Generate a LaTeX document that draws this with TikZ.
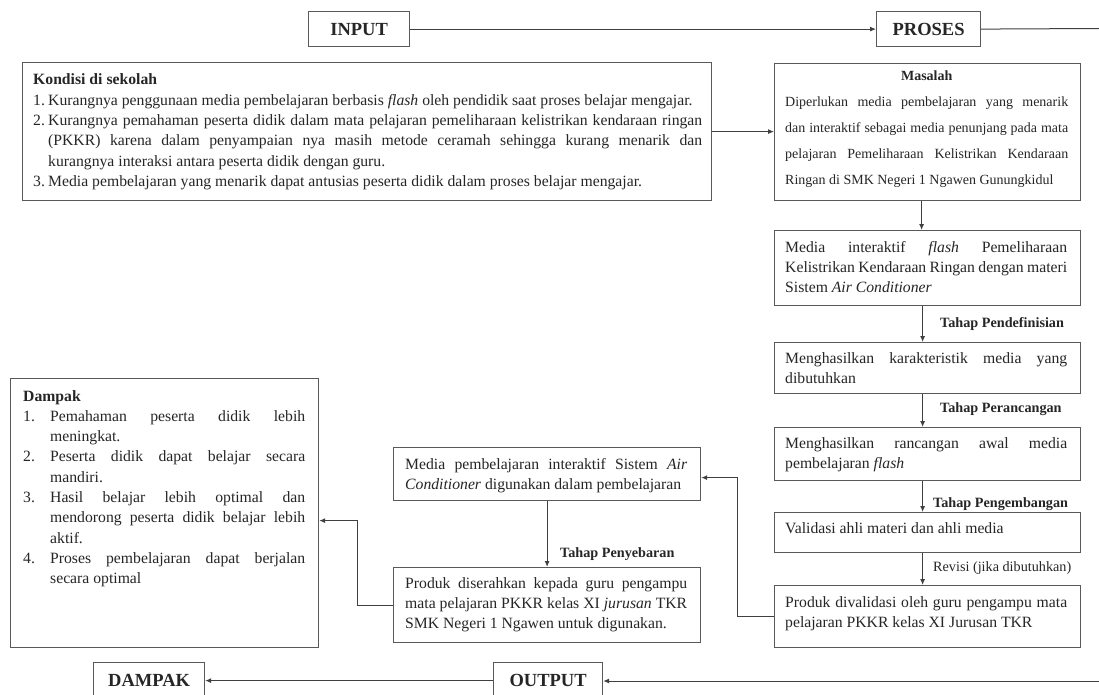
\documentclass[tikz,border=0pt]{standalone}
\usepackage{fontspec}
\setmainfont{Liberation Serif}
\usetikzlibrary{arrows.meta}
\hbadness=10000 \hfuzz=8pt
\tikzset{
  box/.style={draw=black!65, line width=1.2pt, fill=white, inner sep=0pt, anchor=north west},
  hdr/.style={draw=black!65, line width=1.2pt, fill=white, inner sep=0pt, anchor=north west, font=\fontsize{18.5}{22}\selectfont\bfseries, text=black!85},
  txt/.style={inner sep=0pt, anchor=base west, text width=282pt, align=justify, font=\fontsize{15.7}{20.3}\selectfont, text=black!85},
  lbl/.style={inner sep=0pt, anchor=base west, font=\fontsize{14.2}{17}\selectfont\bfseries, text=black!85},
  lblr/.style={inner sep=0pt, anchor=base west, font=\fontsize{14.2}{17}\selectfont, text=black!85},
  conn/.style={draw=black!75, line width=1pt},
  arr/.style={conn, -{Latex[length=6pt,width=5pt]}},
}
\newcommand{\itm}[2]{\hangindent=#1\hangafter=1\noindent\makebox[#1][l]{#2}\ignorespaces}
\begin{document}
\begin{tikzpicture}[x=1pt,y=-1pt]
\path[use as bounding box] (0,0) rectangle (1099,695);
\clip (0,0) rectangle (1099,695);
\fill[white] (0,0) rectangle (1099,695);

% header boxes
\node[hdr, minimum width=101pt, minimum height=35pt] (input) at (308,11) {INPUT};
\node[hdr, minimum width=104pt, minimum height=35pt] (proses) at (876,11) {PROSES};
\node[hdr, minimum width=109pt, minimum height=36pt] (output) at (493,662) {OUTPUT};
\node[hdr, minimum width=111pt, minimum height=36pt] (dampakh) at (93,662) {DAMPAK};

% content boxes
\node[box, minimum width=689pt, minimum height=138pt] (kondisi) at (22,62) {};
\node[box, minimum width=306pt, minimum height=137pt] (masalah) at (774,63) {};
\node[box, minimum width=306pt, minimum height=75pt] (mediaint) at (774,230) {};
\node[box, minimum width=306pt, minimum height=51pt] (karakter) at (774,342) {};
\node[box, minimum width=306pt, minimum height=53pt] (rancang) at (774,427) {};
\node[box, minimum width=306pt, minimum height=40pt] (validasi) at (774,512) {};
\node[box, minimum width=306pt, minimum height=62pt] (produkval) at (774,585) {};
\node[box, minimum width=307pt, minimum height=53pt] (mediapemb) at (393,447) {};
\node[box, minimum width=307pt, minimum height=75pt] (produkser) at (393,567) {};
\node[box, minimum width=308pt, minimum height=269pt] (dampak) at (10,378) {};

% texts
\node[txt, text width=669pt] (kondisi-t) at (33,85) {%
{\bfseries Kondisi di sekolah}\par
\itm{15pt}{1.}Kurangnya penggunaan media pembelajaran berbasis \textit{flash} oleh pendidik saat proses belajar mengajar.\par
\itm{15pt}{2.}Kurangnya pemahaman peserta didik dalam mata pelajaran pemeliharaan kelistrikan kendaraan ringan\linebreak
(PKKR) karena dalam penyampaian nya masih metode ceramah sehingga kurang menarik dan\linebreak
kurangnya interaksi antara peserta didik dengan guru.\par
\itm{15pt}{3.}Media pembelajaran yang menarik dapat antusias peserta didik dalam proses belajar mengajar.\par};

\node[txt, text width=283pt, font=\fontsize{14}{25.8}\selectfont] (masalah-t) at (785,81) {%
{\centering\bfseries Masalah\par}
Diperlukan media pembelajaran yang menarik\linebreak
dan interaktif sebagai media penunjang pada mata\linebreak
pelajaran Pemeliharaan Kelistrikan Kendaraan\linebreak
Ringan di SMK Negeri 1 Ngawen Gunungkidul\par};

\node[txt] (mediaint-t) at (785,252) {Media interaktif \textit{flash} Pemeliharaan\linebreak
Kelistrikan Kendaraan Ringan dengan materi\linebreak
Sistem \textit{Air Conditioner}\par};

\node[txt] (karakter-t) at (785,363) {Menghasilkan karakteristik media yang\linebreak dibutuhkan\par};
\node[txt] (rancang-t) at (785,448) {Menghasilkan rancangan awal media\linebreak pembelajaran \textit{flash}\par};
\node[txt] (validasi-t) at (785,533) {Validasi ahli materi dan ahli media\par};
\node[txt] (produkval-t) at (785,607.5) {Produk divalidasi oleh guru pengampu mata\linebreak pelajaran PKKR kelas XI Jurusan TKR\par};

\node[txt] (mediapemb-t) at (405,469.5) {Media pembelajaran interaktif Sistem \textit{Air}\linebreak \textit{Conditioner} digunakan dalam pembelajaran\par};
\node[txt] (produkser-t) at (405,588) {Produk diserahkan kepada guru pengampu\linebreak mata pelajaran PKKR kelas XI \textit{jurusan} TKR\linebreak SMK Negeri 1 Ngawen untuk digunakan.\par};

\node[txt] (dampak-t) at (23,401) {%
{\bfseries Dampak}\par
\itm{27pt}{1.}Pemahaman peserta didik lebih\linebreak meningkat.\par
\itm{27pt}{2.}Peserta didik dapat belajar secara\linebreak mandiri.\par
\itm{27pt}{3.}Hasil belajar lebih optimal dan\linebreak mendorong peserta didik belajar lebih\linebreak aktif.\par
\itm{27pt}{4.}Proses pembelajaran dapat berjalan\linebreak secara optimal\par};

% labels
\node[lbl] (l1) at (940,327.5) {Tahap Pendefinisian};
\node[lbl] (l2) at (940,412.5) {Tahap Perancangan};
\node[lbl] (l3) at (933,507.5) {Tahap Pengembangan};
\node[lblr] (l4) at (933,571.5) {Revisi (jika dibutuhkan)};
\node[lbl] (l5) at (560,557.5) {Tahap Penyebaran};

% connectors
\draw[arr] (input.east) -- (proses.west);
\coordinate (pe) at (1099,28.5);
\draw[conn] (proses.east) -- (pe);
\coordinate (oe) at (1099,681);
\draw[arr] (oe) -- (oe -| output.east);
\draw[arr] (output.west) -- (dampakh.east);
\draw[arr] (kondisi.east) -- (kondisi.east -| masalah.west);
\draw[arr] ([xshift=-6pt]masalah.south) -- ([xshift=-6pt]mediaint.north);
\draw[arr] ([xshift=-5pt]mediaint.south) -- ([xshift=-5pt]karakter.north);
\draw[arr] ([xshift=-5pt]karakter.south) -- ([xshift=-5pt]rancang.north);
\draw[arr] ([xshift=-5pt]rancang.south) -- ([xshift=-5pt]validasi.north);
\draw[arr] ([xshift=-5pt]validasi.south) -- ([xshift=-5pt]produkval.north);
\draw[arr] (produkval.west) -- ++(-37,0) |- ([yshift=-3.5pt]mediapemb.east);
\draw[arr] (mediapemb.south) -- (produkser.north);
\draw[arr] (produkser.west) -- ++(-36,0) |- ([yshift=-7.5pt]dampak.east);
\end{tikzpicture}
\end{document}
